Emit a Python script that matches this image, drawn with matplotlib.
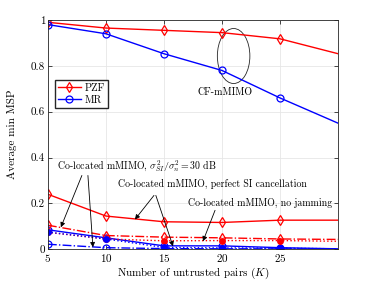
import numpy as np
import matplotlib
matplotlib.use("Agg")
import matplotlib.pyplot as plt
from matplotlib.patches import Ellipse

plt.rcParams['font.family'] = 'serif'
plt.rcParams['font.serif'] = ['cmr10', 'DejaVu Serif']
plt.rcParams['mathtext.fontset'] = 'cm'
plt.rcParams['axes.formatter.use_mathtext'] = True

K = [5, 10, 15, 20, 25, 30]

# CF-mMIMO
cf_pzf = [0.99, 0.965, 0.955, 0.945, 0.918, 0.853]
cf_mr = [0.98, 0.94, 0.853, 0.78, 0.66, 0.55]

# co-located, perfect SI cancellation (solid)
co_pzf_perf = [0.24, 0.145, 0.12, 0.117, 0.127, 0.127]
co_mr_perf = [0.085, 0.05, 0.015, 0.015, 0.007, 0.002]

# co-located, 30 dB SI (dash-dot)
co_pzf_30 = [0.105, 0.06, 0.053, 0.05, 0.045, 0.043]
co_mr_30 = [0.022, 0.007, 0.003, 0.002, 0.002, 0.001]

# co-located, no jamming (dotted)
co_pzf_nj = [0.074, 0.045, 0.037, 0.038, 0.038, 0.035]
co_mr_nj = [0.075, 0.045, 0.008, 0.006, 0.005, 0.002]

xticks = [5, 10, 15, 20, 25]
yticks = [0, 0.2, 0.4, 0.6, 0.8, 1]

red = '#ff0000'
blue = '#0000ff'
me = [0, 1, 2, 3, 4]

fig = plt.figure(figsize=(3.74, 2.82), dpi=100)
ax = fig.add_axes([0.128, 0.116, 0.776, 0.813])

ax.plot(K, cf_pzf, color=red, lw=1, marker='d', mfc='none', ms=5.5, mew=0.9, markevery=me, label='PZF')
ax.plot(K, cf_mr, color=blue, lw=1, marker='o', mfc='none', ms=5, mew=0.9, markevery=me, label='MR')

ax.plot(K, co_pzf_perf, color=red, lw=1, marker='d', mfc='none', ms=5.5, mew=0.9, markevery=me)
ax.plot(K, co_mr_perf, color=blue, lw=1, marker='o', mfc='none', ms=5, mew=0.9, markevery=me)
ax.plot(K, co_pzf_30, color=red, lw=1, ls='-.', marker='d', mfc='none', ms=5.5, mew=0.9, markevery=me)
ax.plot(K, co_mr_30, color=blue, lw=1, ls='-.', marker='o', mfc='none', ms=5, mew=0.9, markevery=me)
ax.plot(K, co_pzf_nj, color=red, lw=1, ls=':', marker='o', mfc=red, ms=4, mew=0.9, markevery=me)
ax.plot(K, co_mr_nj, color=blue, lw=1, ls=':', marker='o', mfc=blue, ms=4, mew=0.9, markevery=me)

ax.set_xlim(5, 30)
ax.set_ylim(0, 1)
ax.set_xticks(xticks)
ax.set_yticks(yticks)
ax.set_yticklabels(['0', '0.2', '0.4', '0.6', '0.8', '1'])
ax.tick_params(labelsize=8, direction='in', length=3, width=0.5, top=True, right=True, pad=2)
ax.grid(True, color='#e6e6e6', lw=0.6)
ax.set_axisbelow(True)
for s in ax.spines.values():
    s.set_linewidth(0.6)
    s.set_color('#262626')

ax.set_xlabel('Number of untrusted pairs ($K$)', fontsize=8)
ax.xaxis.set_label_coords(0.5, -0.07)
ax.set_ylabel('Average min MSP', fontsize=8)
ax.yaxis.set_label_coords(-0.105, 0.5)

ax.legend(loc='lower left', bbox_to_anchor=(0.024, 0.617), fontsize=7.5, frameon=True,
          fancybox=False, edgecolor='#262626', framealpha=1, handlelength=2.2,
          borderpad=0.3, labelspacing=0.25, handletextpad=0.4, borderaxespad=0)

ax.add_patch(Ellipse((21.0, 0.843), 2.8, 0.24, angle=0, fill=False, lw=0.6, color='#262626'))
ax.text(20.3, 0.683, 'CF-mMIMO', fontsize=7.2, ha='center', va='center')

ax.text(5.78, 0.361, r'Co-located mMIMO, $\sigma^2_{SI}/\sigma^2_n = 30$ dB', fontsize=7.1, va='center')
ax.text(11.03, 0.287, 'Co-located mMIMO, perfect SI cancellation', fontsize=7.1, va='center')
ax.text(17.07, 0.204, 'Co-located mMIMO, no jamming', fontsize=7.1, va='center')

ap = dict(arrowstyle='-|>', lw=0.6, color='k', mutation_scale=7, shrinkA=0, shrinkB=0)
ax.annotate('', xy=(6.12, 0.096), xytext=(7.93, 0.322), arrowprops=ap)
ax.annotate('', xy=(8.88, 0.009), xytext=(8.45, 0.322), arrowprops=ap)
ax.annotate('', xy=(12.5, 0.13), xytext=(14.14, 0.235), arrowprops=ap)
ax.annotate('', xy=(15.78, 0.013), xytext=(14.3, 0.235), arrowprops=ap)
ax.annotate('', xy=(18.36, 0.035), xytext=(19.4, 0.17), arrowprops=ap)

fig.savefig('out.png', dpi=100)
